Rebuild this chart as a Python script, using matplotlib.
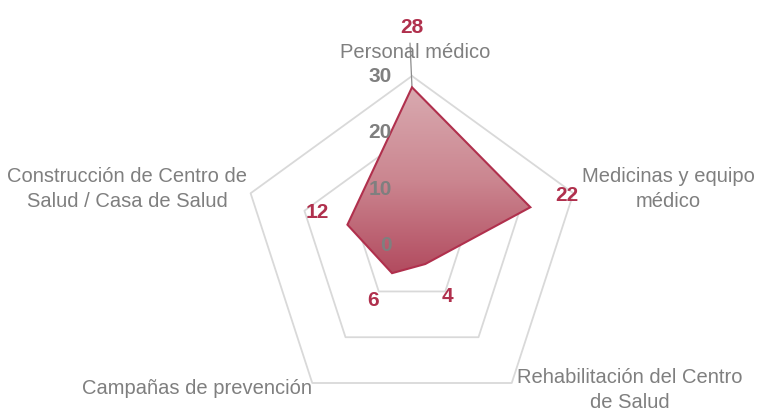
import matplotlib
matplotlib.use('Agg')
import matplotlib.pyplot as plt
from matplotlib.colors import LinearSegmentedColormap
from matplotlib.patches import Polygon
import numpy as np

plt.rcParams['font.family'] = ['Liberation Sans Narrow', 'Liberation Sans', 'DejaVu Sans']

categories = ['Personal médico',
              'Medicinas y equipo\nmédico',
              'Rehabilitación del Centro\nde Salud',
              'Campañas de prevención',
              'Construcción de Centro de\nSalud / Casa de Salud']
values = [28, 22, 4, 6, 12]
ticks = [0, 10, 20, 30]
r_max = 30

# layout in pixels
W, H = 757, 412
CX, CY = 412, 245.7
PX = 169.7 / r_max  # pixels per unit


def px(x, y):
    return (x - CX) / PX, (CY - y) / PX


angles = np.deg2rad(90 - 72 * np.arange(len(categories)))
vals = np.array(values, dtype=float)
xs = vals * np.cos(angles)
ys = vals * np.sin(angles)

fig = plt.figure(figsize=(W / 100, H / 100), dpi=100)
fig.patch.set_facecolor('white')
ax = fig.add_axes([0, 0, 1, 1])
x0, y1 = px(0, 0)
x1, y0 = px(W, H)
ax.axis('off')

# grid pentagons
grid_color = '#D9D9D9'
for t in ticks[1:]:
    gx = np.append(t * np.cos(angles), t * np.cos(angles[0]))
    gy = np.append(t * np.sin(angles), t * np.sin(angles[0]))
    ax.plot(gx, gy, color=grid_color, lw=1.3, zorder=1)

# gradient filled data polygon
poly = Polygon(np.column_stack([xs, ys]), closed=True, facecolor='none',
               edgecolor='#B0304D', lw=1.5, zorder=4)
ax.add_patch(poly)
cmap = LinearSegmentedColormap.from_list('fill', ['#D9AAB0', '#CB8690', '#B24B5F'])
grad = np.linspace(0, 1, 256).reshape(-1, 1)
im = ax.imshow(grad, cmap=cmap, aspect='auto', origin='upper',
               extent=[xs.min(), xs.max(), ys.min(), ys.max()], zorder=3)
im.set_clip_path(poly)
ax.set_xlim(x0, x1)
ax.set_ylim(y0, y1)

# value axis labels
for t in ticks:
    ax.text(-20 / PX, t, str(t), ha='right', va='center', fontsize=15,
            fontweight='bold', color='#7F7F7F', zorder=5)

# leader line for the top label
ax.plot([xs[0], xs[0] - 2 / PX], [ys[0], ys[0] + 44 / PX],
        color='#8C8C8C', lw=0.9, zorder=2)

# data labels
label_offsets = [(0, 60), (37, 12), (22, -32), (-19, -27), (-30, 12)]
for xv, yv, v, (dx, dy) in zip(xs, ys, values, label_offsets):
    ax.annotate(str(v), xy=(xv, yv), xytext=(dx, dy), textcoords='offset pixels',
                ha='center', va='center', fontsize=15, fontweight='bold',
                color='#B0304D', zorder=6)

# category labels
cat_pos = [(415, 52), (668, 189), (630, 390), (197, 388), (127, 189)]
for name, (lx, ly) in zip(categories, cat_pos):
    tx, ty = px(lx, ly)
    ax.text(tx, ty, name, ha='center', va='center', fontsize=14.5,
            color='#7F7F7F', linespacing=1.45, zorder=5)

fig.savefig('out.png', dpi=100, facecolor='white')
